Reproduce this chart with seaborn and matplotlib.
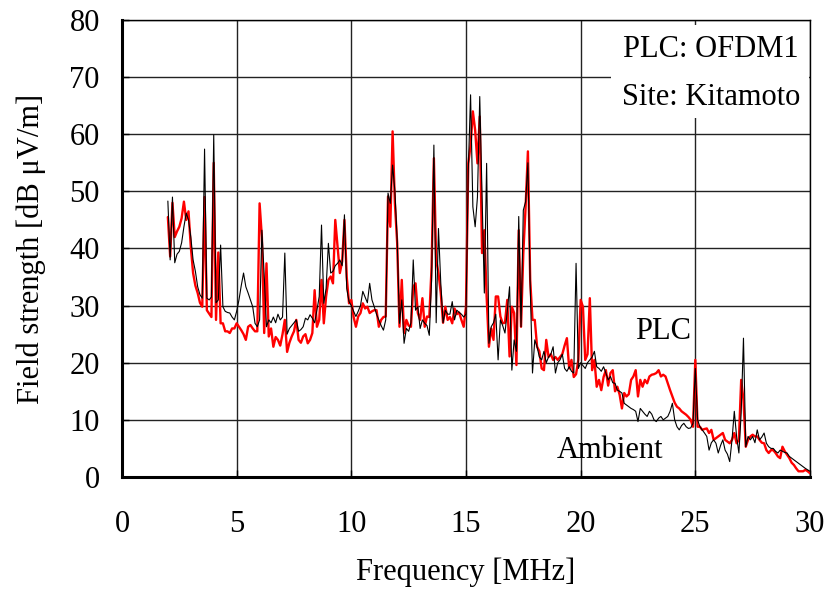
import numpy as np
import pandas as pd
import matplotlib
matplotlib.use("Agg")
import matplotlib.pyplot as plt
import seaborn as sns
from matplotlib.patches import Rectangle

# sweep frequencies, 0.1 MHz steps from 2.0 to 30.0 MHz
freq = np.round(np.arange(2.0, 30.05, 0.1), 1)

# PLC (red) field strength, dB uV/m, one row per MHz
plc = [
    45.5, 38.6, 48.0, 42.0, 43.0, 43.8, 45.3, 48.2, 45.0, 46.5,
    40.3, 35.7, 33.5, 32.2, 30.5, 29.8, 49.0, 29.2, 28.6, 28.0,
    55.0, 27.5, 39.3, 26.9, 26.9, 25.5, 25.5, 25.2, 26.0, 26.0,
    26.9, 26.3, 25.7, 25.0, 24.0, 26.3, 26.6, 26.0, 25.5, 25.5,
    47.9, 42.0, 25.2, 37.4, 24.6, 26.0, 22.8, 24.5, 24.0, 23.0,
    25.0, 27.5, 21.9, 23.5, 24.6, 25.5, 27.5, 24.0, 23.5, 24.6,
    25.0, 23.4, 24.0, 25.2, 32.7, 26.3, 27.5, 34.5, 26.9, 31.6,
    34.5, 35.1, 33.9, 45.0, 40.3, 35.7, 37.7, 45.0, 35.0, 30.4,
    31.0, 28.0, 26.3, 28.1, 28.7, 30.4, 29.5, 29.8, 28.7, 29.0,
    29.2, 29.2, 26.3, 27.5, 28.0, 28.1, 49.1, 43.8, 60.5, 47.9,
    40.9, 26.3, 34.5, 25.2, 27.5, 26.5, 26.3, 33.3, 33.9, 28.7,
    27.5, 31.3, 26.3, 28.1, 28.0, 36.8, 55.8, 38.0, 35.7, 32.2,
    27.0, 29.8, 27.5, 28.0, 26.9, 29.5, 28.5, 28.8, 27.5, 26.3,
    29.8, 54.9, 58.0, 64.0, 60.7, 54.9, 63.1, 39.2, 43.2, 31.6,
    22.8, 26.0, 24.0, 31.6, 31.6, 28.1, 26.9, 27.0, 31.0, 21.1,
    29.8, 28.7, 19.6, 43.2, 26.3, 39.2, 47.3, 57.0, 34.5, 27.5,
    27.5, 22.8, 22.0, 19.0, 18.7, 24.0, 21.0, 21.5, 20.5, 21.0,
    20.5, 21.0, 21.5, 23.0, 24.3, 19.0, 20.5, 17.5, 18.0, 20.5,
    31.0, 29.8, 20.5, 21.5, 31.3, 18.7, 20.5, 15.8, 17.0, 15.2,
    17.5, 18.7, 16.0, 18.2, 18.7, 15.0, 15.8, 14.4, 12.0, 14.7,
    14.1, 14.5, 17.0, 17.6, 18.7, 14.1, 17.0, 15.8, 17.0, 16.4,
    17.6, 17.9, 18.0, 18.2, 18.7, 17.6, 17.9, 17.6, 16.4, 15.2,
    14.1, 13.0, 12.3, 12.0, 11.5, 11.2, 10.9, 10.5, 10.0, 8.8,
    20.5, 8.8, 8.8, 8.25, 8.4, 8.5, 7.7, 8.25, 6.5, 6.8,
    7.1, 7.4, 7.7, 6.5, 6.2, 5.9, 6.5, 7.7, 5.9, 6.5,
    17.0, 13.5, 5.3, 6.5, 7.1, 7.4, 7.1, 7.1, 6.5, 6.0,
    5.9, 4.7, 4.2, 4.7, 4.7, 4.2, 3.6, 3.3, 5.3, 4.5,
    3.9, 3.3, 2.5, 2.1, 1.5, 1.0, 1.0, 1.0, 1.25, 1.0,
    0.66,
]

# ambient (black) field strength
ambient = [
    48.3, 38.0, 49.0, 37.5, 39.0, 39.5, 41.0, 43.8, 46.2, 45.0,
    42.0, 38.0, 36.0, 33.3, 31.9, 31.3, 57.4, 31.3, 31.0, 31.5,
    59.9, 30.5, 31.0, 40.6, 29.8, 29.0, 28.8, 28.7, 28.0, 27.5,
    29.0, 31.0, 33.5, 35.7, 33.3, 32.2, 31.0, 29.8, 26.9, 26.3,
    27.5, 43.2, 35.4, 26.3, 27.5, 27.0, 28.0, 27.0, 28.5, 27.5,
    28.0, 39.2, 25.0, 26.0, 26.5, 27.0, 27.5, 25.5, 25.8, 26.3,
    27.8, 27.5, 28.4, 27.8, 27.0, 29.2, 31.6, 44.1, 30.4, 33.0,
    40.9, 35.7, 36.0, 37.0, 37.4, 38.0, 37.0, 45.9, 33.0, 30.7,
    30.0, 29.0, 28.1, 29.0, 30.0, 32.5, 31.5, 30.5, 33.9, 31.0,
    29.8, 28.5, 27.5, 26.5, 25.7, 27.5, 49.7, 47.9, 54.6, 50.0,
    41.5, 26.9, 31.0, 23.4, 26.0, 25.5, 27.0, 38.0, 29.2, 29.8,
    26.0, 27.5, 26.9, 26.5, 24.8, 34.5, 58.1, 27.0, 43.5, 34.0,
    27.0, 29.2, 28.5, 28.5, 30.7, 27.5, 29.2, 28.8, 28.5, 28.0,
    28.5, 53.7, 66.9, 47.3, 43.8, 49.0, 66.6, 49.7, 32.2, 54.9,
    23.4, 26.3, 27.0, 28.5, 20.5, 27.5, 26.5, 25.2, 29.0, 33.3,
    18.7, 24.0, 22.0, 45.6, 26.3, 46.7, 48.2, 55.0, 33.5, 18.2,
    24.0, 22.8, 21.0, 20.5, 22.0, 20.0, 21.0, 21.5, 22.8, 18.2,
    20.0, 20.5, 21.5, 19.0, 18.5, 19.3, 18.5, 18.2, 37.4, 19.0,
    20.0, 19.5, 19.0, 20.0, 20.5, 21.0, 22.0, 19.3, 19.0, 18.5,
    19.3, 18.2, 17.0, 17.6, 16.5, 16.4, 15.2, 15.0, 14.7, 12.9,
    12.6, 12.3, 12.0, 11.8, 11.5, 9.7, 12.0, 11.5, 11.0, 10.6,
    11.5, 11.0, 10.0, 9.7, 10.3, 10.6, 10.0, 10.3, 10.6, 11.5,
    12.9, 10.0, 8.8, 8.25, 9.0, 9.4, 8.8, 8.5, 8.6, 9.4,
    19.0, 10.0, 8.8, 8.25, 7.7, 7.1, 4.7, 6.0, 6.5, 5.9,
    4.2, 5.5, 6.5, 4.7, 4.0, 2.7, 6.5, 11.5, 7.1, 4.2,
    11.2, 24.3, 5.3, 7.1, 6.5, 7.1, 6.0, 8.25, 6.5, 7.0,
    7.7, 5.9, 5.3, 5.0, 5.0, 4.5, 4.2, 4.7, 4.5, 4.3,
    4.2, 3.6, 3.3, 3.0, 2.7, 2.4, 2.1, 1.8, 1.5, 1.25,
    1.0,
]

df = pd.DataFrame({"freq": freq, "PLC": plc, "Ambient": ambient})

sns.set_theme(style="ticks")
plt.rcParams["font.family"] = ["Liberation Serif", "DejaVu Serif"]
plt.rcParams["text.color"] = "black"
plt.rcParams["axes.labelcolor"] = "black"

fig = plt.figure(figsize=(8.26, 5.91), dpi=100)
ax = fig.add_axes([0.1477, 0.1929, 0.8329, 0.7733])

sns.lineplot(data=df, x="freq", y="PLC", ax=ax, color="#ff0000", lw=1.7,
             estimator=None, zorder=3)
sns.lineplot(data=df, x="freq", y="Ambient", ax=ax, color="black", lw=0.8,
             estimator=None, zorder=4)

ax.set_xlim(0, 30)
ax.set_ylim(0, 80)
ax.set_xticks(range(0, 31, 5))
ax.set_yticks(range(0, 81, 10))
ax.grid(True, color="#222222", lw=1.0)
ax.set_axisbelow(True)
ax.tick_params(direction="in", length=5, width=1, labelsize=22, colors="black")
ax.tick_params(axis="x", pad=24)
ax.tick_params(axis="y", pad=16)
for s in ["left", "bottom"]:
    ax.spines[s].set_linewidth(2.2)
for s in ["top", "right"]:
    ax.spines[s].set_linewidth(1.0)
for s in ax.spines.values():
    s.set_color("black")

ax.set_xlabel("Frequency [MHz]", fontsize=22, labelpad=13)
ax.set_ylabel("Field strength [dB \u03bcV/m]", fontsize=22, labelpad=17)

# white legend-like box in the upper right
ax.add_patch(Rectangle((0.711, 0.786), 0.287, 0.203, transform=ax.transAxes,
                       facecolor="white", edgecolor="none", zorder=2.5))
ax.text(0.856, 0.935, "PLC: OFDM1", transform=ax.transAxes, fontsize=22,
        ha="center", va="center", color="black", zorder=5)
ax.text(0.856, 0.83, "Site: Kitamoto", transform=ax.transAxes, fontsize=22,
        ha="center", va="center", color="black", zorder=5)

ax.text(23.6, 25.4, "PLC", fontsize=22, ha="center", va="center",
        color="black", zorder=5)
ax.text(21.3, 4.6, "Ambient", fontsize=22, ha="center", va="center",
        color="black", zorder=5)

fig.savefig("out.png", dpi=100)
